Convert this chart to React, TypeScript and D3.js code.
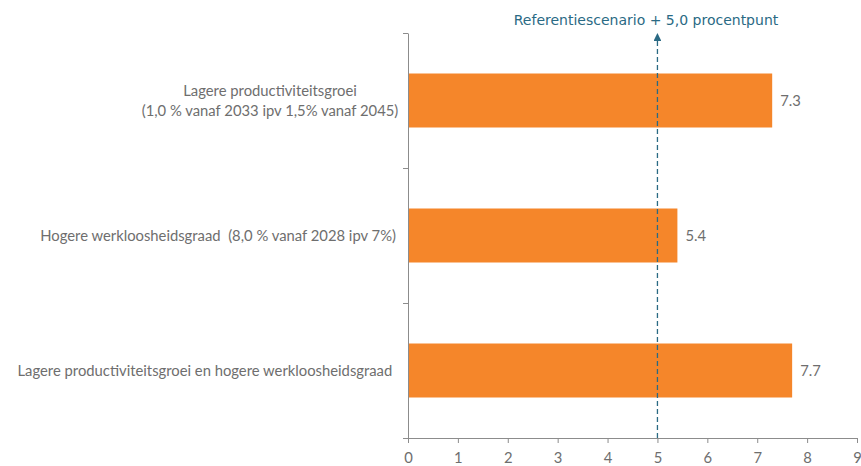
import React from 'react';
import * as d3 from 'd3';
import { useEffect, useRef } from 'react';

// scenario labels (line broken where the source breaks them)
const categories: string[][] = [
    ['Lagere productiviteitsgroei', '(1,0 % vanaf 2033 ipv 1,5% vanaf 2045)'],
    ['Hogere werkloosheidsgraad  (8,0 % vanaf 2028 ipv 7%)'],
    ['Lagere productiviteitsgroei en hogere werkloosheidsgraad '],
];
const values: number[] = [7.3, 5.4, 7.7];
const xTicks: number[] = [0, 1, 2, 3, 4, 5, 6, 7, 8, 9];
const referenceValue = 5;
const referenceLabel = 'Referentiescenario + 5,0 procentpunt';

const App = () => {
    const chartRef = useRef<SVGSVGElement | null>(null);
    const width = 861;
    const height = 466;

    useEffect(() => {
        const svg = d3.select(chartRef.current);
        svg.selectAll('*').remove();

        const left = 408, right = 857, top = 33, bottom = 438;
        const axisColor = '#8c8c8c';
        const textColor = '#6e6e6e';
        const refColor = '#2a6a84';
        const font = 'Lato, "Liberation Sans", Arial, sans-serif';
        const fontSize = '14.8px';

        const xScale = d3.scaleLinear().domain([0, 9]).range([left, right]);
        const yScale = d3.scaleBand<number>()
            .domain(values.map((_, i) => i))
            .range([top, bottom])
            .paddingInner(0.6)
            .paddingOuter(0.3);

        // bars
        svg.selectAll('rect.bar')
            .data(values)
            .enter()
            .append('rect')
            .attr('class', 'bar')
            .attr('x', xScale(0))
            .attr('y', (d, i) => yScale(i) as number)
            .attr('width', d => xScale(d) - xScale(0))
            .attr('height', yScale.bandwidth())
            .attr('fill', '#f5862a');

        // value labels
        svg.selectAll('text.val')
            .data(values)
            .enter()
            .append('text')
            .attr('class', 'val')
            .attr('x', d => xScale(d) + 8)
            .attr('y', (d, i) => (yScale(i) as number) + yScale.bandwidth() / 2)
            .attr('dy', '0.35em')
            .style('font-family', font)
            .style('font-size', fontSize)
            .style('fill', textColor)
            .text(d => d.toFixed(1));

        // x axis
        const xAxis = svg.append('g')
            .attr('transform', `translate(0, ${bottom})`)
            .call(d3.axisBottom(xScale).tickValues(xTicks).tickSize(5).tickSizeOuter(0).tickPadding(9));
        xAxis.select('.domain').attr('stroke', axisColor);
        xAxis.selectAll('line').attr('stroke', axisColor);
        xAxis.selectAll('text')
            .style('font-family', font)
            .style('font-size', fontSize)
            .style('fill', textColor);

        // y axis with ticks at the band boundaries
        const yLine = d3.scaleLinear().domain([0, values.length]).range([top, bottom]);
        const yAxis = svg.append('g')
            .attr('transform', `translate(${left}, 0)`)
            .call(d3.axisLeft(yLine).tickValues(d3.range(values.length + 1)).tickSize(5).tickSizeOuter(0).tickFormat(() => ''));
        yAxis.select('.domain').attr('stroke', axisColor);
        yAxis.selectAll('line').attr('stroke', axisColor);

        // category labels
        const labelCenter = 270;
        categories.forEach((lines, i) => {
            const cy = (yScale(i) as number) + yScale.bandwidth() / 2;
            const t = svg.append('text')
                .style('font-family', font)
                .style('font-size', fontSize)
                .style('fill', textColor)
                .style('white-space', 'pre');
            const multi = lines.length > 1;
            lines.forEach((line, j) => {
                t.append('tspan')
                    .attr('x', multi ? labelCenter : 396)
                    .attr('text-anchor', multi ? 'middle' : 'end')
                    .attr('y', cy + (j - (lines.length - 1) / 2) * 20)
                    .attr('dy', '0.35em')
                    .text(line);
            });
        });

        // reference line with arrow
        svg.append('defs').append('marker')
            .attr('id', 'refArrow')
            .attr('viewBox', '0 0 10 10')
            .attr('refX', 5)
            .attr('refY', 5)
            .attr('markerWidth', 6)
            .attr('markerHeight', 6)
            .attr('orient', 'auto')
            .append('path')
            .attr('d', 'M0,0 L10,5 L0,10 z')
            .attr('fill', refColor);

        svg.append('line')
            .attr('x1', xScale(referenceValue))
            .attr('x2', xScale(referenceValue))
            .attr('y1', bottom)
            .attr('y2', 37)
            .attr('stroke', refColor)
            .attr('stroke-width', 1.3)
            .attr('stroke-dasharray', '5,3')
            .attr('marker-end', 'url(#refArrow)');

        svg.append('text')
            .attr('x', 646)
            .attr('y', 25)
            .attr('text-anchor', 'middle')
            .style('font-family', '"DejaVu Sans", Verdana, sans-serif')
            .style('font-size', '14px')
            .style('fill', refColor)
            .text(referenceLabel);
    }, []);

    return (
        <svg ref={chartRef} width={width} height={height}
             style={{ position: 'absolute', left: 0, top: 0, background: '#fff' }}></svg>
    );
};

export default App;
